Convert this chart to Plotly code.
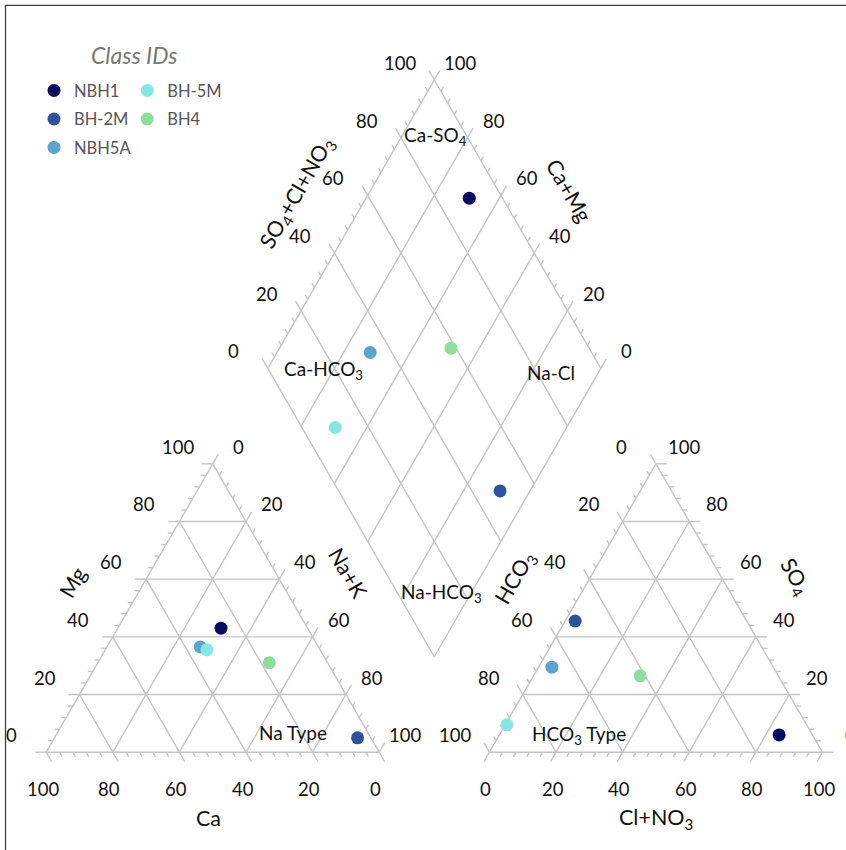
import numpy as np
import plotly.graph_objects as go

# ---------------- data (percent of meq) ----------------
samples = ["NBH1", "BH-2M", "NBH5A", "BH-5M", "BH4"]
colors = ["#0b0b60", "#2f529b", "#5ba4cd", "#86e8e4", "#8ddd9d"]
ca = [26.0, 4.0, 35.5, 34.0, 17.5]
mg = [43.0, 5.0, 36.5, 35.5, 31.0]
na_k = [31.0, 91.0, 28.0, 30.5, 51.5]
hco3 = [10.0, 51.5, 66.5, 90.0, 41.5]
cl_no3 = [84.0, 3.0, 4.0, 0.5, 32.0]
so4 = [6.0, 45.5, 29.5, 9.5, 26.5]
tick_values = [0, 20, 40, 60, 80, 100]
minor_step = 4

# ---------------- geometry ----------------
W, H = 846, 850
S = 333.0            # pixels per triangle side
X0, Y0 = 46.2, 752.2  # pixel of left triangle's Ca corner
G = 0.331            # gap between triangles (side units)
SQ = np.sqrt(3) / 2
XB, YB = 1 + G / 2, G * SQ

def left_pt(c, m, n):
    return n + m / 2, m * SQ

def right_pt(h, c, s):
    return 1 + G + c + s / 2, s * SQ

def dia_pt(a, b):
    return XB + (b - a) / 2, YB + (a + b) * SQ

def at_px(px, py):
    return (px - X0) / S, (Y0 - py) / S

LINE = "#c4c4c4"
TXT = "#111111"
FONT = "Lato"

lx, ly = [], []
def seg(p, q):
    lx.extend([p[0], q[0], None]); ly.extend([p[1], q[1], None])

grid_t = [0.0, 0.2, 0.4, 0.6, 0.8]
for t in grid_t:
    # left triangle
    seg(left_pt(1 - t, t, 0), left_pt(0, t, 1 - t))
    seg(left_pt(1 - t, 0, t), left_pt(0, 1 - t, t))
    seg(left_pt(t, 1 - t, 0), left_pt(t, 0, 1 - t))
    # right triangle
    seg(right_pt(1 - t, 0, t), right_pt(0, 1 - t, t))
    seg(right_pt(1 - t, t, 0), right_pt(0, t, 1 - t))
    seg(right_pt(t, 1 - t, 0), right_pt(t, 0, 1 - t))
for t in grid_t + [1.0]:
    seg(dia_pt(t, 0), dia_pt(t, 1))
    seg(dia_pt(0, t), dia_pt(1, t))

LMAJ, LMIN = 11 / S, 5 / S
def tick(p, d, major):
    L = LMAJ if major else LMIN
    seg(p, (p[0] + d[0] * L, p[1] + d[1] * L))

for v in range(0, 101, minor_step):
    t = v / 100
    mj = v % 20 == 0
    tick(left_pt(t, 0, 1 - t), (0.5, -SQ), mj)      # Ca
    tick(left_pt(1 - t, t, 0), (-1, 0), mj)         # Mg
    tick(left_pt(0, 1 - t, t), (0.5, SQ), mj)       # Na+K
    tick(right_pt(1 - t, t, 0), (-0.5, -SQ), mj)    # Cl+NO3
    tick(right_pt(t, 0, 1 - t), (-0.5, SQ), mj)     # HCO3
    tick(right_pt(0, 1 - t, t), (1, 0), mj)         # SO4
    tick(dia_pt(1, t), (-0.5, SQ), mj)              # SO4+Cl+NO3
    tick(dia_pt(t, 1), (0.5, SQ), mj)               # Ca+Mg

fig = go.Figure()
fig.add_trace(go.Scatter(x=lx, y=ly, mode="lines", line=dict(color=LINE, width=1.4),
                         hoverinfo="skip", showlegend=False))

legend_ids = ["legend", "legend2", "legend3", "legend4", "legend5"]
for i, name in enumerate(samples):
    c, m, n = ca[i] / 100, mg[i] / 100, na_k[i] / 100
    h, cl, s = hco3[i] / 100, cl_no3[i] / 100, so4[i] / 100
    p1 = left_pt(c, m, n)
    p2 = right_pt(h, cl, s)
    p3 = dia_pt(c + m, s + cl)
    fig.add_trace(go.Scatter(x=[p1[0], p2[0], p3[0]], y=[p1[1], p2[1], p3[1]],
                             mode="markers", name=name, legend=legend_ids[i],
                             marker=dict(size=13, color=colors[i])))

ann = []
def label(xy, text, dx=0, dy=0, size=18.5, angle=0, color=TXT):
    ann.append(dict(x=xy[0], y=xy[1], text=text, showarrow=False, xshift=dx, yshift=-dy,
                    textangle=angle, font=dict(family=FONT, size=size, color=color),
                    xanchor="center", yanchor="middle"))

for v in tick_values:
    t = v / 100
    label(left_pt(t, 0, 1 - t), str(v), -3.5, 37)
    label(left_pt(1 - t, t, 0), str(v), -35, -17)
    label(left_pt(0, 1 - t, t), str(v), 26, -17)
    label(right_pt(1 - t, t, 0), str(v), -3.5, 37)
    label(right_pt(t, 0, 1 - t), str(v), -34, -17)
    label(right_pt(0, 1 - t, t), str(v), 28, -17)
    label(dia_pt(1, t), str(v), -34.5, -17)
    label(dia_pt(t, 1), str(v), 26, -17)

def mid(p, q):
    return (p[0] + q[0]) / 2, (p[1] + q[1]) / 2

TS = 21.5
label(mid(left_pt(1, 0, 0), left_pt(0, 0, 1)), "Ca", -4.5, 66, TS)
label(mid(left_pt(1, 0, 0), left_pt(0, 1, 0)), "Mg", -56.5, -26, TS, -60)
label(mid(left_pt(0, 1, 0), left_pt(0, 0, 1)), "Na+K", 52, -35, TS, 60)
label(mid(right_pt(1, 0, 0), right_pt(0, 1, 0)), "Cl+NO<sub>3</sub>", 0, 66, TS)
label(mid(right_pt(1, 0, 0), right_pt(0, 0, 1)), "HCO<sub>3</sub>", -57.5, -30, TS, -60)
label(mid(right_pt(0, 1, 0), right_pt(0, 0, 1)), "SO<sub>4</sub>", 56, -31, TS, 60)
label(mid(dia_pt(1, 0), dia_pt(1, 1)), "SO<sub>4</sub>+Cl+NO<sub>3</sub>", -54, -31, TS, -60)
label(mid(dia_pt(0, 1), dia_pt(1, 1)), "Ca+Mg", 51, -34, TS, 60)

RS = 19
label(at_px(435, 136), "Ca-SO<sub>4</sub>", size=RS)
label(at_px(323, 370), "Ca-HCO<sub>3</sub>", size=RS)
label(at_px(551, 372), "Na-Cl", size=RS)
label(at_px(441, 593), "Na-HCO<sub>3</sub>", size=RS)
label(at_px(293, 732), "Na Type", size=RS)
label(at_px(579, 735), "HCO<sub>3</sub> Type", size=RS)
label(at_px(133.5, 54.5), "<i>Class IDs</i>", size=23, color="#777777")

legend_centers = [(55, 90.7), (55, 119.3), (55, 147.7), (148.3, 90.7), (148.3, 119.3)]
layout_legends = {}
for lid, (cx, cy) in zip(legend_ids, legend_centers):
    layout_legends[lid] = dict(x=(cx - 21) / W, y=1 - cy / H, xanchor="left", yanchor="middle",
                               bgcolor="rgba(0,0,0,0)", borderwidth=0,
                               font=dict(family=FONT, size=16.5, color="#555555"))

fig.update_layout(
    width=W, height=H, margin=dict(l=0, r=0, t=0, b=0),
    paper_bgcolor="white", plot_bgcolor="white",
    xaxis=dict(range=[-X0 / S, (W - X0) / S], visible=False, fixedrange=True),
    yaxis=dict(range=[(Y0 - H) / S, Y0 / S], visible=False, fixedrange=True),
    annotations=ann, showlegend=True,
    shapes=[dict(type="rect", xref="paper", yref="paper", x0=5.5 / W, x1=1.02,
                 y0=-0.02, y1=1 - 5.3 / H, line=dict(color="#3f3f3f", width=1.3))],
    **layout_legends,
)

fig.write_html("out.html", config={"displayModeBar": False},
               post_script="document.body.style.margin='0';")
